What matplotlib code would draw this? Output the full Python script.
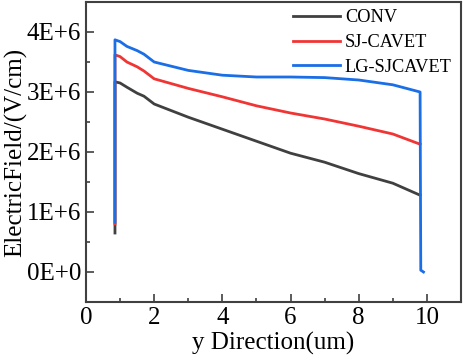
import numpy as np
import matplotlib.pyplot as plt
from matplotlib.ticker import MultipleLocator

plt.rcParams['font.family'] = ['Liberation Serif', 'DejaVu Serif']

# y position (um) and field (V/cm)
x_conv = [0.85, 0.85, 1.0, 1.2, 1.5, 1.7, 2.0, 3.0, 4.0, 5.0, 6.0, 7.0, 8.0, 9.0, 9.8]
e_conv = [0.65e6, 3.17e6, 3.15e6, 3.08e6, 2.98e6, 2.93e6, 2.80e6, 2.58e6, 2.38e6, 2.18e6,
          1.98e6, 1.83e6, 1.64e6, 1.48e6, 1.28e6]

x_sj = [0.85, 0.85, 1.0, 1.2, 1.5, 1.7, 2.0, 3.0, 4.0, 5.0, 6.0, 7.0, 8.0, 9.0, 9.8]
e_sj = [0.80e6, 3.62e6, 3.59e6, 3.50e6, 3.42e6, 3.35e6, 3.22e6, 3.06e6, 2.92e6, 2.77e6,
        2.65e6, 2.55e6, 2.43e6, 2.30e6, 2.13e6]

x_lg = [0.85, 0.85, 1.0, 1.2, 1.5, 1.7, 2.0, 3.0, 4.0, 5.0, 6.0, 7.0, 8.0, 9.0, 9.8, 9.82, 9.9]
e_lg = [0.83e6, 3.87e6, 3.84e6, 3.76e6, 3.69e6, 3.63e6, 3.50e6, 3.36e6, 3.28e6, 3.25e6,
        3.25e6, 3.24e6, 3.20e6, 3.12e6, 3.00e6, 0.03e6, 0.0]

fig = plt.figure(figsize=(4.64, 3.63), dpi=100)
ax = fig.add_axes([86/464, 61/363, 375/464, 300/363])

ax.plot(x_conv, e_conv, color='#404040', lw=2, label='CONV')
ax.plot(x_sj, e_sj, color='#f03535', lw=2, label='SJ-CAVET')
ax.plot(x_lg, e_lg, color='#1a6ee6', lw=2, label='LG-SJCAVET')

ax.set_xlim(0, 11)
ax.set_ylim(-0.5e6, 4.5e6)
ax.set_xticks([0, 2, 4, 6, 8, 10])
ax.set_yticks([0, 1e6, 2e6, 3e6, 4e6])
ax.set_yticklabels(['0E+0', '1E+6', '2E+6', '3E+6', '4E+6'])
ax.xaxis.set_minor_locator(MultipleLocator(1))
ax.yaxis.set_minor_locator(MultipleLocator(0.5e6))
ax.tick_params(which='both', direction='in', labelsize=18, width=1.2, color='#404040')
ax.tick_params(which='major', length=6)
ax.tick_params(which='minor', length=3)
for s in ax.spines.values():
    s.set_linewidth(1.5)
    s.set_color('#404040')

ax.set_xlabel('y Direction(um)', fontsize=18, labelpad=2)
ax.set_ylabel('ElectricField/(V/cm)', fontsize=18, labelpad=0)

ax.legend(loc='upper right', frameon=False, fontsize=13.2, handlelength=2.6,
          handletextpad=0.25, labelspacing=0.42, borderaxespad=0.0,
          bbox_to_anchor=(0.995, 1.0))

fig.savefig('out.png', dpi=100)
